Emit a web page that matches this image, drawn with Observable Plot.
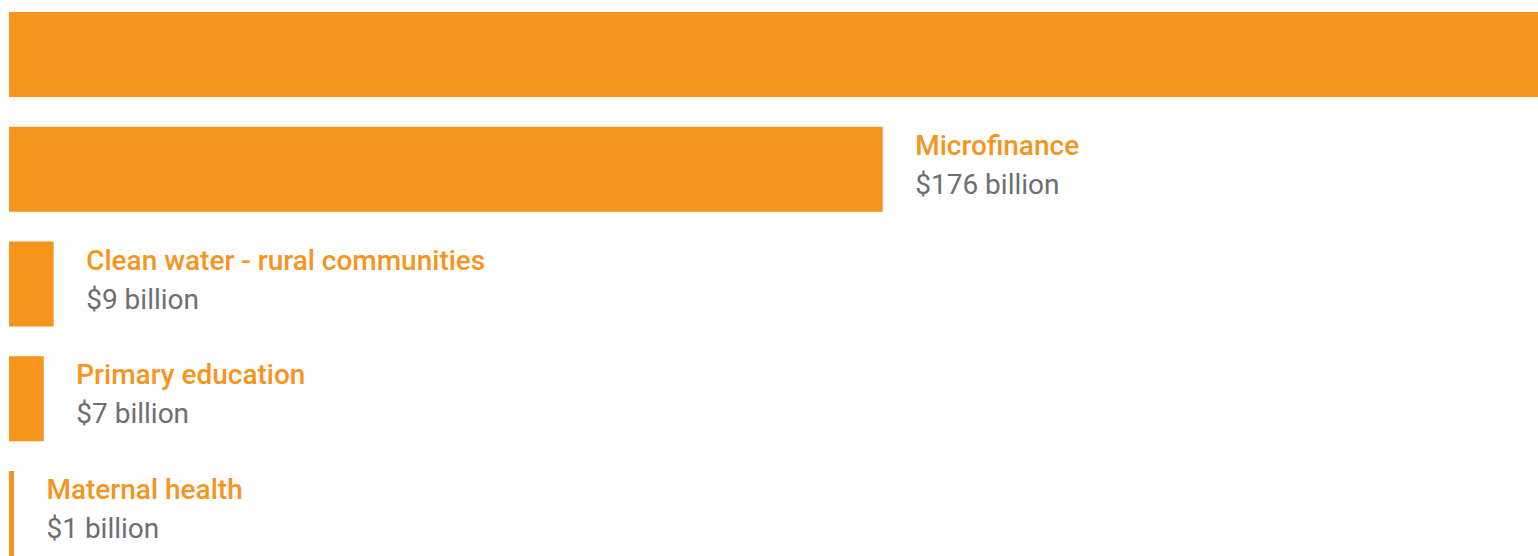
<!DOCTYPE html>
<html>
<head>
<meta charset="utf-8">
<script src="https://cdn.jsdelivr.net/npm/d3@7"></script>
<script src="https://cdn.jsdelivr.net/npm/@observablehq/plot@0.6"></script>
<style>
  html, body { margin: 0; padding: 0; background: #fff; overflow: hidden; }
  #chart svg { display: block; }
</style>
</head>
<body>
<div id="chart"></div>
<script>
const categories = ["Top", "Microfinance", "Clean water - rural communities", "Primary education", "Maternal health"];
const labels = [null, "Microfinance", "Clean water - rural communities", "Primary education", "Maternal health"];
const values = [308, 176, 9, 7, 1];
const valueLabels = [null, "$176 billion", "$9 billion", "$7 billion", "$1 billion"];

const data = categories.map((c, i) => ({cat: c, label: labels[i], value: values[i], valueLabel: valueLabels[i]}));
const labelled = data.filter(d => d.label);

const ORANGE = "#F7941E";
const GRAY = "#6D6E71";
const FONT = "Roboto, 'Liberation Sans', sans-serif";

const chart = Plot.plot({
  width: 1538,
  height: 556,
  margin: 0,
  x: {domain: [0, 308], range: [9, 1538], axis: null},
  y: {type: "band", domain: categories, range: [12, 556], paddingInner: 0.259, paddingOuter: 0, round: false, axis: null},
  style: {fontFamily: FONT, background: "#fff"},
  marks: [
    Plot.barX(data, {x: "value", y: "cat", fill: ORANGE}),
    Plot.text(labelled, {x: "value", y: "cat", text: "label", fill: ORANGE, textAnchor: "start", lineAnchor: "bottom", dx: 32, dy: -15, fontSize: 28, fontWeight: 500}),
    Plot.text(labelled, {x: "value", y: "cat", text: "valueLabel", fill: GRAY, textAnchor: "start", lineAnchor: "bottom", dx: 32, dy: 24, fontSize: 28, fontWeight: 400})
  ]
});
document.getElementById("chart").appendChild(chart);
</script>
</body>
</html>
